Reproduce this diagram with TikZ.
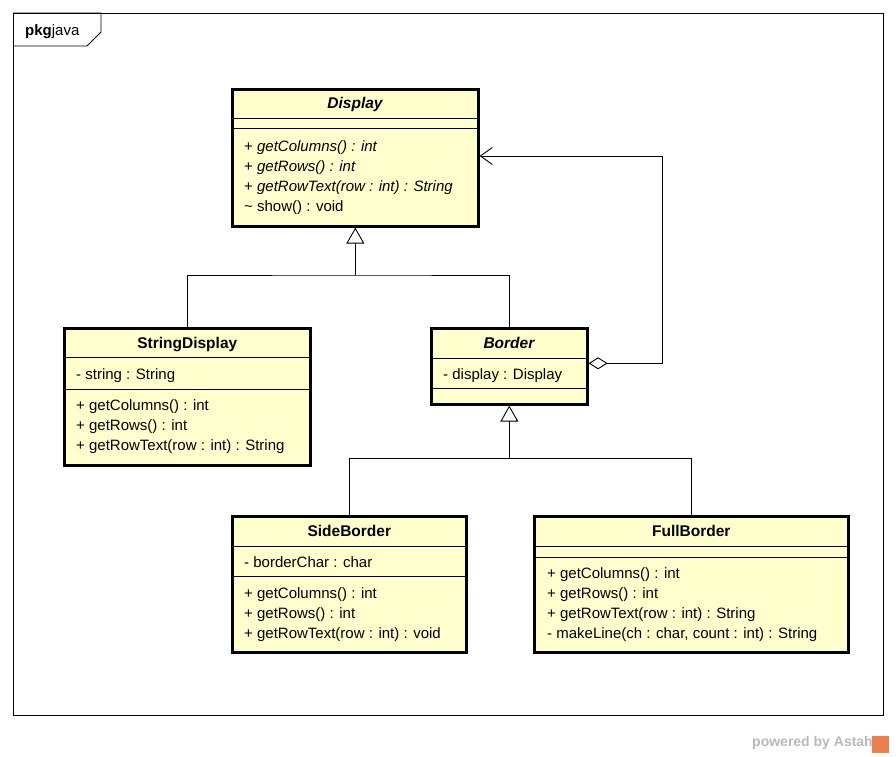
\documentclass[tikz,border=0pt]{standalone}
\usepackage{fontspec}
\setmainfont{Liberation Sans}
\usetikzlibrary{arrows.meta}

\definecolor{clsfill}{RGB}{255,255,206}
\definecolor{wmgray}{RGB}{185,185,185}
\definecolor{wmorange}{RGB}{238,128,80}

\begin{document}
\begin{tikzpicture}[x=1pt,y=-1pt,font=\fontsize{15}{18}\selectfont,
    cls/.style={draw,fill=clsfill,line width=2.6pt,anchor=north west,inner sep=0pt},
    title/.style={font=\fontsize{15.5}{18}\selectfont\bfseries,inner sep=0pt,text height=12pt,text depth=2pt},
    member/.style={anchor=west,inner sep=0pt,text height=12pt,text depth=2pt},
    sep/.style={line width=0.8pt},
    link/.style={line width=0.9pt},
    gen/.style={-{Triangle[open,width=18pt,length=16pt]}},
    agg/.style={{Diamond[open,width=12pt,length=19pt]}-{Straight Barb[width=17pt,length=12pt]}}]
  \useasboundingbox (0,0) rectangle (896,756);

  \node[draw,line width=0.8pt,anchor=north west,inner sep=0pt,minimum width=870pt,minimum height=702pt] (frame) at (13,13) {};
  \draw[line width=0.8pt] (frame.north west) -- (101,13) -- (101,32) -- (87,46) -- (13,46);
  \node[member] (pkgname) at (25,30) {\textbf{pkg}java};

  \node[cls,minimum width=246pt,minimum height=137pt] (display) at (231,88) {};
  \node[title] (displayname) at ([yshift=-15pt]display.north) {\textit{Display}};
  \draw[sep] ([yshift=-30pt]display.north west) -- ([yshift=-30pt]display.north east);
  \draw[sep] ([yshift=-40pt]display.north west) -- ([yshift=-40pt]display.north east);
  \foreach \txt [count=\i] in {{+ \textit{getColumns() : int}},{+ \textit{getRows() : int}},
      {+ \textit{getRowText(row : int) : String}},{\char`\~{} show() : void}}
    \node[member] (displayop\i) at (244,146+20.3*\i-20.3) {\txt};

  \node[cls,minimum width=246pt,minimum height=137pt] (strdisp) at (63,327) {};
  \node[title] (strdispname) at ([yshift=-16pt]strdisp.north) {StringDisplay};
  \draw[sep] ([yshift=-30pt]strdisp.north west) -- ([yshift=-30pt]strdisp.north east);
  \draw[sep] ([yshift=-62pt]strdisp.north west) -- ([yshift=-62pt]strdisp.north east);
  \node[member] (strdispattr) at (76,374) {- string : String};
  \foreach \txt [count=\i] in {{+ getColumns() : int},{+ getRows() : int},{+ getRowText(row : int) : String}}
    \node[member] (strdispop\i) at (76,405+20*\i-20) {\txt};

  \node[cls,minimum width=156pt,minimum height=76pt] (border) at (430,327) {};
  \node[title] (bordername) at ([yshift=-16pt]border.north) {\textit{Border}};
  \draw[sep] ([yshift=-31pt]border.north west) -- ([yshift=-31pt]border.north east);
  \draw[sep] ([yshift=-61pt]border.north west) -- ([yshift=-61pt]border.north east);
  \node[member] (borderattr) at (443,374) {- display : Display};

  \node[cls,minimum width=234pt,minimum height=136pt] (sideb) at (231,515) {};
  \node[title] (sidebname) at ([yshift=-16pt]sideb.north) {SideBorder};
  \draw[sep] ([yshift=-31pt]sideb.north west) -- ([yshift=-31pt]sideb.north east);
  \draw[sep] ([yshift=-61pt]sideb.north west) -- ([yshift=-61pt]sideb.north east);
  \node[member] (sidebattr) at (244,562) {- borderChar : char};
  \foreach \txt [count=\i] in {{+ getColumns() : int},{+ getRows() : int},{+ getRowText(row : int) : void}}
    \node[member] (sidebop\i) at (244,593+20*\i-20) {\txt};

  \node[cls,minimum width=314pt,minimum height=136pt] (fullb) at (533,515) {};
  \node[title] (fullbname) at ([yshift=-16pt]fullb.north) {FullBorder};
  \draw[sep] ([yshift=-31pt]fullb.north west) -- ([yshift=-31pt]fullb.north east);
  \draw[sep] ([yshift=-42pt]fullb.north west) -- ([yshift=-42pt]fullb.north east);
  \foreach \txt [count=\i] in {{+ getColumns() : int},{+ getRows() : int},{+ getRowText(row : int) : String},
      {- makeLine(ch : char, count : int) : String}}
    \node[member] (fullbop\i) at (547,573+20*\i-20) {\txt};

  \coordinate (upjoint) at (display.south |- 0,275);
  \draw[link] (strdisp.north) |- (upjoint) -| (border.north);
  \draw[link,gen] (upjoint) -- (display.south);

  \coordinate (lowjoint) at (border.south |- 0,458);
  \draw[link] (sideb.north) |- (lowjoint) -| (fullb.north);
  \draw[link,gen] (lowjoint) -- (border.south);

  \coordinate (aggtop) at (662,156);
  \draw[link,agg] ([yshift=3pt]border.east) -| (aggtop) -- (aggtop -| display.east);

  \node[fill=wmorange,minimum size=17pt,inner sep=0pt] (logo) at (880,744) {};
  \node[anchor=east,text=wmgray,font=\fontsize{14}{16}\selectfont\bfseries,inner sep=0pt] (powered) at (873,743) {powered by Astah};
\end{tikzpicture}
\end{document}
